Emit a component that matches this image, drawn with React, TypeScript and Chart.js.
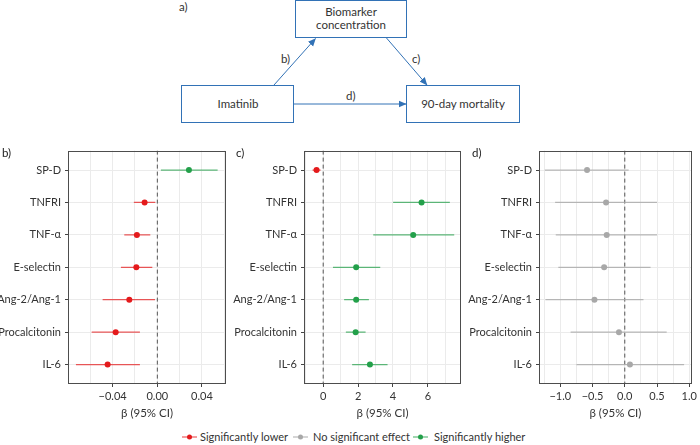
import React, { useEffect, useRef } from 'react';
import { Chart, registerables } from 'chart.js';

Chart.register(...registerables);

const FONT = "Lato, 'Noto Sans', sans-serif";
const TEXT = '#333333';

// Categories (top to bottom)
const biomarkers = ['SP-D', 'TNFRI', 'TNF-α', 'E-selectin', 'Ang-2/Ang-1', 'Procalcitonin', 'IL-6'];

// b) Imatinib -> biomarker
const bEst = [0.0283, -0.0114, -0.0183, -0.0188, -0.0251, -0.0373, -0.0445];
const bLow = [0.0032, -0.021, -0.0296, -0.0326, -0.049, -0.0588, -0.0729];
const bHigh = [0.054, -0.0018, -0.0063, -0.0045, -0.0021, -0.0156, -0.0156];
const bGridTicks = [-0.06, -0.04, -0.02, 0, 0.02, 0.04, 0.06];
const bLabelTicks = [-0.04, 0, 0.04];

// c) biomarker -> 90-day mortality
const cEst = [-0.38, 5.64, 5.16, 1.89, 1.89, 1.86, 2.68];
const cLow = [-0.61, 4.01, 2.87, 0.56, 1.2, 1.3, 1.66];
const cHigh = [-0.15, 7.26, 7.51, 3.27, 2.62, 2.43, 3.69];
const cGridTicks = [-1, 0, 1, 2, 3, 4, 5, 6, 7];
const cLabelTicks = [0, 2, 4, 6];

// d) Imatinib -> 90-day mortality
const dEst = [-0.585, -0.29, -0.28, -0.32, -0.47, -0.09, 0.08];
const dLow = [-1.24, -1.08, -1.07, -1.03, -1.23, -0.84, -0.75];
const dHigh = [0.06, 0.5, 0.5, 0.4, 0.29, 0.65, 0.92];
const dGridTicks = [-1.25, -1, -0.75, -0.5, -0.25, 0, 0.25, 0.5, 0.75, 1];
const dLabelTicks = [-1, -0.5, 0, 0.5, 1];

const legendLabels = ['Significantly lower', 'No significant effect', 'Significantly higher'];

const COLORS = {
  lower: { point: '#e41a1c', line: 'rgba(228,26,28,0.72)' },
  none: { point: '#a8a8a8', line: 'rgba(168,168,168,0.8)' },
  higher: { point: '#23a04a', line: 'rgba(35,160,74,0.72)' },
};

type Sig = 'lower' | 'none' | 'higher';
const sigOf = (lo: number, hi: number): Sig => (hi < 0 ? 'lower' : lo > 0 ? 'higher' : 'none');

const minus = (s: string) => s.replace('-', '\u2212');

type PanelDef = {
  label: string;
  est: number[];
  low: number[];
  high: number[];
  xMin: number;
  xMax: number;
  gridTicks: number[];
  labelTicks: number[];
  fmt: (v: number) => string;
  left: number;
  width: number;
  yAxisWidth: number;
  labelX: number;
};

const panels: PanelDef[] = [
  {
    label: 'b)', est: bEst, low: bLow, high: bHigh, xMin: -0.08, xMax: 0.0615,
    gridTicks: bGridTicks, labelTicks: bLabelTicks, fmt: (v) => minus(v.toFixed(2)),
    left: 0, width: 230, yAxisWidth: 68, labelX: 2,
  },
  {
    label: 'c)', est: cEst, low: cLow, high: cHigh, xMin: -1.1, xMax: 7.9,
    gridTicks: cGridTicks, labelTicks: cLabelTicks, fmt: (v) => minus(v.toFixed(0)),
    left: 230, width: 235, yAxisWidth: 74, labelX: 236,
  },
  {
    label: 'd)', est: dEst, low: dLow, high: dHigh, xMin: -1.33, xMax: 1.04,
    gridTicks: dGridTicks, labelTicks: dLabelTicks, fmt: (v) => minus(v.toFixed(1)),
    left: 460, width: 240, yAxisWidth: 79, labelX: 472,
  },
];

const PANEL_TOP = 140;
const PANEL_H = 285;

const borderPlugin = {
  id: 'panelBorder',
  afterDraw(chart: any) {
    const { ctx, chartArea: a } = chart;
    ctx.save();
    ctx.strokeStyle = '#4d4d4d';
    ctx.lineWidth = 1;
    ctx.strokeRect(Math.round(a.left) + 0.5, Math.round(a.top) + 0.5, Math.round(a.right) - Math.round(a.left) - 1, Math.round(a.bottom) - Math.round(a.top) - 1);
    ctx.restore();
  },
};

function ForestPanel({ p }: { p: PanelDef }) {
  const ref = useRef<HTMLCanvasElement>(null);
  useEffect(() => {
    if (!ref.current) return;
    const isLabel = (v: number) => p.labelTicks.some((t) => Math.abs(t - v) < 1e-9);
    const sigs = p.est.map((_, i) => sigOf(p.low[i], p.high[i]));
    const datasets: any[] = [];
    datasets.push({
      data: p.est.map((x, i) => ({ x, y: i })),
      pointRadius: 3,
      pointBorderWidth: 0,
      pointBackgroundColor: sigs.map((s) => COLORS[s].point),
      pointBorderColor: sigs.map((s) => COLORS[s].point),
      showLine: false,
      order: 0,
    });
    p.est.forEach((_, i) => {
      datasets.push({
        data: [{ x: p.low[i], y: i }, { x: p.high[i], y: i }],
        showLine: true,
        borderColor: COLORS[sigs[i]].line,
        borderWidth: 1.2,
        pointRadius: 0,
        order: 1,
      });
    });
    datasets.push({
      data: [{ x: 0, y: -0.6 }, { x: 0, y: 6.6 }],
      showLine: true,
      borderColor: '#555555',
      borderWidth: 1,
      borderDash: [4, 3],
      pointRadius: 0,
      order: 2,
    });
    const chart = new Chart(ref.current, {
      type: 'scatter',
      data: { datasets },
      options: {
        animation: false,
        responsive: false,
        layout: { padding: { top: 7, right: 4, left: 0, bottom: 0 } },
        plugins: { legend: { display: false }, tooltip: { enabled: false } },
        scales: {
          x: {
            type: 'linear',
            min: p.xMin,
            max: p.xMax,
            afterBuildTicks: (s: any) => { s.ticks = p.gridTicks.map((v) => ({ value: v })); },
            afterFit: (s: any) => { s.height = 41; },
            ticks: {
              autoSkip: false,
              maxRotation: 0,
              padding: 3,
              color: TEXT,
              font: { family: FONT, size: 11 },
              callback: (v: any) => (isLabel(Number(v)) ? p.fmt(Number(v)) : ''),
            },
            grid: {
              color: '#ebebeb',
              lineWidth: 1,
              tickLength: 3,
              tickColor: (ctx: any) => (ctx.tick && isLabel(ctx.tick.value) ? '#444444' : 'rgba(0,0,0,0)'),
            },
            border: { display: false },
            title: {
              display: true,
              text: 'β (95% CI)',
              color: TEXT,
              font: { family: FONT, size: 11.5 },
              padding: { top: 0, bottom: 5 },
            },
          },
          y: {
            type: 'linear',
            min: -0.6,
            max: 6.6,
            reverse: true,
            afterBuildTicks: (s: any) => { s.ticks = biomarkers.map((_, i) => ({ value: i })); },
            afterFit: (s: any) => { s.width = p.yAxisWidth; },
            ticks: {
              autoSkip: false,
              padding: 4,
              color: TEXT,
              font: { family: FONT, size: 11 },
              callback: (v: any) => biomarkers[Math.round(Number(v))] ?? '',
            },
            grid: { color: '#ebebeb', lineWidth: 1, tickLength: 3, tickColor: '#444444' },
            border: { display: false },
          },
        },
      } as any,
      plugins: [borderPlugin],
    });
    return () => chart.destroy();
  }, [p]);
  return (
    <canvas
      ref={ref}
      width={p.width}
      height={PANEL_H}
      style={{ position: 'absolute', left: p.left, top: PANEL_TOP, width: p.width, height: PANEL_H }}
    />
  );
}

const BLUE = '#3272b6';
const DTEXT = '#333333';

function Diagram() {
  const tx = { fontFamily: FONT, fontSize: 11.5, fill: DTEXT } as any;
  return (
    <svg width={700} height={130} style={{ position: 'absolute', left: 0, top: 0 }}>
      <defs>
        <marker id="ah" markerWidth="8" markerHeight="8" refX="7.5" refY="4" orient="auto" markerUnits="userSpaceOnUse">
          <path d="M0,0.5 L8,4 L0,7.5 z" fill={BLUE} />
        </marker>
      </defs>
      <text x={179} y={11} {...tx}>a)</text>
      <rect x={295.5} y={0.5} width={111} height={37} fill="white" stroke={BLUE} strokeWidth={1} />
      <text x={351} y={16} textAnchor="middle" {...tx}>Biomarker</text>
      <text x={351} y={29} textAnchor="middle" {...tx}>concentration</text>
      <rect x={181.5} y={85.5} width={112} height={37} fill="white" stroke={BLUE} strokeWidth={1} />
      <text x={238} y={108} textAnchor="middle" {...tx}>Imatinib</text>
      <rect x={406.5} y={85.5} width={113} height={37} fill="white" stroke={BLUE} strokeWidth={1} />
      <text x={463} y={108} textAnchor="middle" {...tx}>90-day mortality</text>
      <line x1={274} y1={85} x2={315.5} y2={38.5} stroke={BLUE} strokeWidth={1} markerEnd="url(#ah)" />
      <line x1={386.5} y1={38} x2={427} y2={85} stroke={BLUE} strokeWidth={1} markerEnd="url(#ah)" />
      <line x1={294} y1={104} x2={406} y2={104} stroke={BLUE} strokeWidth={1} markerEnd="url(#ah)" />
      <text x={281} y={63} {...tx}>b)</text>
      <text x={412} y={63} {...tx}>c)</text>
      <text x={346} y={100} {...tx}>d)</text>
    </svg>
  );
}

const legendMarkerX = [182, 293, 413];
const legendTextX = [200, 313, 434];

function Legend() {
  const keys: Sig[] = ['lower', 'none', 'higher'];
  return (
    <div style={{ position: 'absolute', left: 0, top: 429, width: 700, height: 16, fontFamily: FONT, fontSize: 11, color: TEXT }}>
      {keys.map((k, i) => (
        <React.Fragment key={k}>
          <svg width={16} height={10} style={{ position: 'absolute', left: legendMarkerX[i], top: 3 }}>
            <line x1={0} y1={5} x2={15} y2={5} stroke={COLORS[k].line} strokeWidth={1.2} />
            <circle cx={7.5} cy={5} r={2.5} fill={COLORS[k].point} />
          </svg>
          <span style={{ position: 'absolute', left: legendTextX[i], top: 0, lineHeight: '16px', whiteSpace: 'nowrap' }}>
            {legendLabels[i]}
          </span>
        </React.Fragment>
      ))}
    </div>
  );
}

export default function App() {
  return (
    <div style={{ position: 'absolute', left: 0, top: 0, width: 700, height: 445, overflow: 'hidden', background: 'white' }}>
      <Diagram />
      {panels.map((p) => (
        <ForestPanel key={p.label} p={p} />
      ))}
      {panels.map((p) => (
        <div
          key={'lbl' + p.label}
          style={{ position: 'absolute', left: p.labelX, top: 146, fontFamily: FONT, fontSize: 11.5, color: '#222' }}
        >
          {p.label}
        </div>
      ))}
      <Legend />
    </div>
  );
}
